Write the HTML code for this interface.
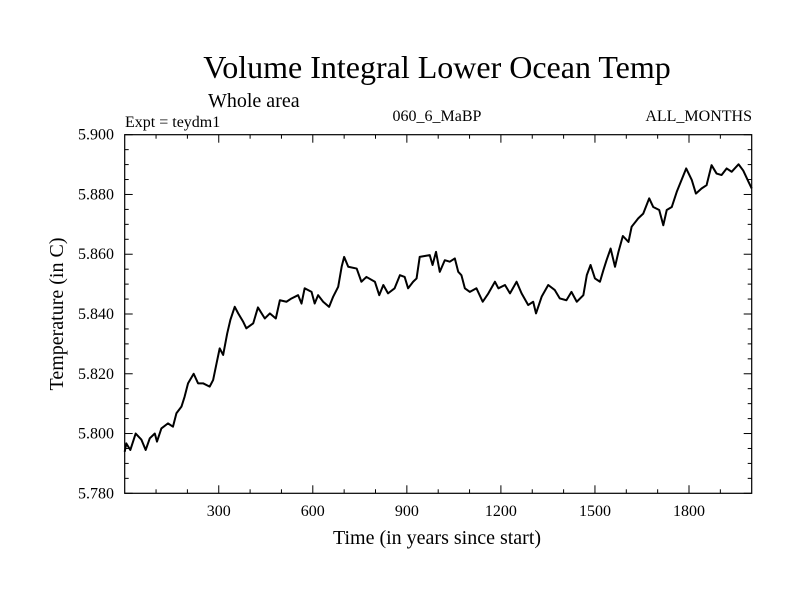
<!DOCTYPE html>
<html><head><meta charset="utf-8"><style>
html,body{margin:0;padding:0;background:#fff;}
svg text{font-family:"Liberation Serif",serif;fill:#000;}
</style></head><body>
<svg id="chart" width="800" height="600" viewBox="0 0 800 600">
<text x="437" y="78" font-size="32" text-anchor="middle">Volume Integral Lower Ocean Temp</text>
<text x="208" y="107" font-size="20">Whole area</text>
<text x="125" y="127" font-size="16">Expt = teydm1</text>
<text x="437" y="121" font-size="16" text-anchor="middle">060_6_MaBP</text>
<text x="752" y="121" font-size="16" text-anchor="end">ALL_MONTHS</text>
<text x="437" y="544" font-size="20" text-anchor="middle">Time (in years since start)</text>
<text x="63" y="314" font-size="20" text-anchor="middle" transform="rotate(-90 63 314)">Temperature (in C)</text>
<g id="axes"></g>
<path id="series" fill="none" stroke="#000" stroke-width="2" stroke-linejoin="round"/>
<rect x="124.7" y="134.7" width="627" height="358.6" fill="none" stroke="#000" stroke-width="1.2"/>
</svg>
<script>
const years=[0,5,18,35,53,67,80,96,103,117,138,154,165,181,191,202,220,234,250,271,282,293,303,314,327,337,351,362,378,388,410,425,447,463,482,495,516,532,553,564,574,596,606,617,633,652,665,681,692,700,713,740,755,771,798,812,825,840,861,878,893,904,920,931,941,973,982,993,1005,1021,1037,1053,1064,1074,1085,1101,1122,1142,1160,1181,1192,1213,1229,1250,1266,1287,1303,1312,1330,1351,1372,1388,1409,1425,1442,1463,1474,1486,1500,1516,1527,1537,1550,1564,1575,1589,1607,1617,1638,1654,1673,1686,1705,1718,1729,1745,1761,1791,1809,1822,1840,1856,1872,1888,1904,1920,1936,1958,1973,1990,2000];
const temps=[5.7939,5.7967,5.7945,5.800,5.798,5.7945,5.7984,5.800,5.7973,5.8017,5.8034,5.8023,5.8068,5.809,5.8123,5.8168,5.820,5.8168,5.8168,5.8157,5.8179,5.8235,5.8285,5.8263,5.8335,5.838,5.8424,5.8402,5.8374,5.8352,5.8369,5.8422,5.8385,5.8402,5.8385,5.8446,5.8441,5.8452,5.8463,5.8435,5.8486,5.8474,5.8435,5.8463,5.8441,5.8424,5.8458,5.8491,5.8558,5.8591,5.8558,5.8552,5.8508,5.8524,5.8508,5.8463,5.8497,5.8469,5.8486,5.853,5.8524,5.8486,5.8508,5.8519,5.8591,5.8597,5.8564,5.8608,5.8541,5.858,5.8575,5.8586,5.8541,5.853,5.8486,5.8474,5.8486,5.8441,5.8469,5.8508,5.8486,5.8497,5.8469,5.8508,5.8469,5.843,5.8441,5.8402,5.8458,5.8497,5.848,5.8452,5.8446,5.8474,5.8441,5.8463,5.853,5.8564,5.8519,5.8508,5.8547,5.858,5.8619,5.8558,5.8608,5.8661,5.8641,5.8692,5.872,5.8736,5.8787,5.8758,5.8748,5.8697,5.8748,5.8758,5.8809,5.8887,5.8848,5.8803,5.882,5.8831,5.8898,5.887,5.8865,5.8887,5.8876,5.8901,5.888,5.8842,5.882];
const xTicks=[300,600,900,1200,1500,1800];
const yTicks=[5.780,5.800,5.820,5.840,5.860,5.880,5.900];
const X0=124.7,X1=751.7,Y0=493.3,Y1=134.7;
const xMin=0,xMax=2000,yMin=5.78,yMax=5.90;
function sx(v){return X0+(v-xMin)/(xMax-xMin)*(X1-X0);}
function sy(v){return Y0-(v-yMin)/(yMax-yMin)*(Y0-Y1);}
const NS="http://www.w3.org/2000/svg";
const axes=document.getElementById('axes');
function line(x1,y1,x2,y2,name){
  const l=document.createElementNS(NS,'line');
  l.setAttribute('x1',x1);l.setAttribute('y1',y1);l.setAttribute('x2',x2);l.setAttribute('y2',y2);
  l.setAttribute('stroke','#000');l.setAttribute('stroke-width','1');
  
  
  axes.appendChild(l);
}
function text(x,y,s,anchor,name){
  const t=document.createElementNS(NS,'text');
  t.setAttribute('x',x);t.setAttribute('y',y);t.setAttribute('font-size','16');t.setAttribute('text-anchor',anchor);
  t.textContent=s;
  
  
  axes.appendChild(t);
}
for(let v=100;v<2000;v+=100){
  const major=v%300===0, len=major?8:4, x=sx(v);
  line(x,Y0,x,Y0-len,'x-tick');
  line(x,Y1,x,Y1+len,'x-tick-top');
}
xTicks.forEach(v=>text(sx(v),516,String(v),'middle','x-tick-label'));
for(let i=0;i<=24;i++){
  const v=yMin+i*0.005, major=i%4===0, len=major?8:4, y=sy(v);
  line(X0,y,X0+len,y,'y-tick');
  line(X1,y,X1-len,y,'y-tick-right');
}
yTicks.forEach(v=>text(114,sy(v)+5,v.toFixed(3),'end','y-tick-label'));
let d='';
years.forEach((yr,i)=>{d+=(i?'L':'M')+sx(yr).toFixed(2)+','+sy(temps[i]).toFixed(2);});
document.getElementById('series').setAttribute('d',d);
</script>
</body></html>
